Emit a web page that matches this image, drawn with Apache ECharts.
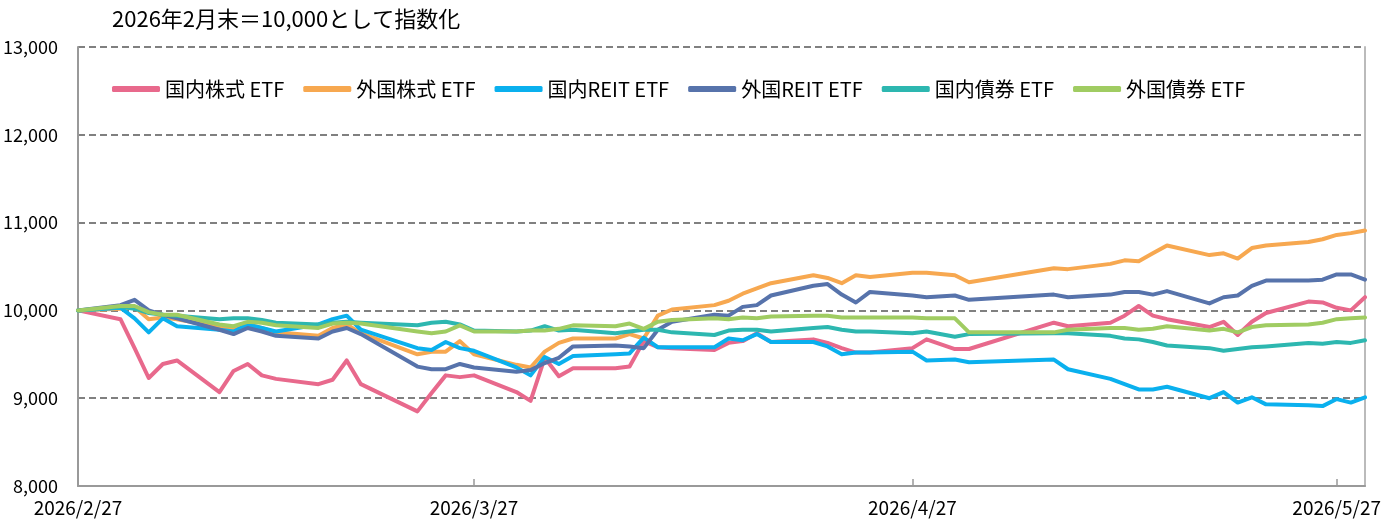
<!DOCTYPE html>
<html>
<head>
<meta charset="utf-8">
<script src="https://cdn.jsdelivr.net/npm/echarts@6/dist/echarts.min.js"></script>
<style>
  html, body { margin: 0; padding: 0; background: #fff; }
  #chart { width: 1397px; height: 521px; }
</style>
</head>
<body>
<div id="chart"></div>
<script>
// 日付（営業日）
const dates = [
  "2026-02-27",
  "2026-03-02", "2026-03-03", "2026-03-04", "2026-03-05", "2026-03-06",
  "2026-03-09", "2026-03-10", "2026-03-11", "2026-03-12", "2026-03-13",
  "2026-03-16", "2026-03-17", "2026-03-18", "2026-03-19",
  "2026-03-23", "2026-03-24", "2026-03-25", "2026-03-26", "2026-03-27",
  "2026-03-30", "2026-03-31", "2026-04-01", "2026-04-02", "2026-04-03",
  "2026-04-06", "2026-04-07", "2026-04-08", "2026-04-09", "2026-04-10",
  "2026-04-13", "2026-04-14", "2026-04-15", "2026-04-16", "2026-04-17",
  "2026-04-20", "2026-04-21", "2026-04-22", "2026-04-23", "2026-04-24",
  "2026-04-27", "2026-04-28", "2026-04-30", "2026-05-01",
  "2026-05-07", "2026-05-08",
  "2026-05-11", "2026-05-12", "2026-05-13", "2026-05-14", "2026-05-15",
  "2026-05-18", "2026-05-19", "2026-05-20", "2026-05-21", "2026-05-22",
  "2026-05-25", "2026-05-26", "2026-05-27", "2026-05-28", "2026-05-29"
];

const seriesNames = ["国内株式 ETF", "外国株式 ETF", "国内REIT ETF", "外国REIT ETF", "国内債券 ETF", "外国債券 ETF"];
const colors = ["#E8698C", "#F7A850", "#0AB0EE", "#5773AB", "#2DB7B0", "#A0CC62"];

const domesticStock = [
  10000, 9900, 9570, 9230, 9390, 9430, 9070, 9310, 9390, 9260, 9220,
  9160, 9210, 9430, 9160, 8850, 9060, 9260, 9240, 9260,
  9070, 8970, 9460, 9250, 9340, 9340, 9360, 9650, 9580, 9570,
  9550, 9630, 9650, 9740, 9640, 9670, 9630, 9570, 9520, 9520,
  9570, 9670, 9560, 9560, 9860, 9820,
  9860, 9940, 10050, 9940, 9900, 9810, 9870, 9720, 9870, 9970,
  10100, 10090, 10030, 10000, 10150
];
const foreignStock = [
  10000, 10020, 10040, 9900, 9920, 9900, 9810, 9790, 9840, 9800, 9750,
  9710, 9800, 9840, 9740, 9500, 9530, 9530, 9650, 9500,
  9380, 9350, 9530, 9630, 9680, 9680, 9730, 9680, 9940, 10010,
  10060, 10110, 10190, 10250, 10310, 10400, 10370, 10310, 10400, 10380,
  10430, 10430, 10400, 10320, 10480, 10470,
  10530, 10570, 10560, 10650, 10740, 10630, 10650, 10590, 10710, 10740,
  10780, 10810, 10860, 10880, 10910
];
const domesticReit = [
  10000, 10030, 9910, 9750, 9910, 9820, 9780, 9760, 9840, 9800, 9760,
  9840, 9900, 9940, 9780, 9570, 9550, 9640, 9570, 9540,
  9350, 9260, 9470, 9390, 9480, 9500, 9510, 9690, 9580, 9580,
  9580, 9680, 9660, 9730, 9640, 9640, 9590, 9500, 9520, 9520,
  9530, 9430, 9440, 9410, 9440, 9330,
  9220, 9160, 9100, 9100, 9130, 9000, 9070, 8950, 9010, 8930,
  8920, 8910, 8990, 8950, 9010
];
const foreignReit = [
  10000, 10060, 10120, 10000, 9950, 9910, 9780, 9730, 9800, 9760, 9710,
  9680, 9760, 9800, 9730, 9360, 9330, 9330, 9390, 9350,
  9300, 9320, 9400, 9460, 9590, 9600, 9590, 9570, 9780, 9870,
  9950, 9940, 10040, 10060, 10170, 10280, 10300, 10180, 10090, 10210,
  10170, 10150, 10170, 10120, 10180, 10150,
  10180, 10210, 10210, 10180, 10220, 10080, 10150, 10170, 10280, 10340,
  10340, 10350, 10410, 10410, 10350
];
const domesticBond = [
  10000, 10040, 10020, 9970, 9950, 9940, 9900, 9910, 9910, 9890, 9860,
  9840, 9860, 9870, 9860, 9830, 9860, 9870, 9840, 9770,
  9760, 9770, 9820, 9770, 9780, 9740, 9760, 9780, 9780, 9750,
  9720, 9770, 9780, 9780, 9760, 9800, 9810, 9780, 9760, 9760,
  9740, 9760, 9700, 9730, 9740, 9740,
  9710, 9680, 9670, 9640, 9600, 9570, 9540, 9560, 9580, 9590,
  9630, 9620, 9640, 9630, 9660
];
const foreignBond = [
  10000, 10050, 10050, 9980, 9950, 9950, 9840, 9820, 9870, 9860, 9830,
  9800, 9850, 9860, 9850, 9760, 9740, 9760, 9830, 9760,
  9760, 9770, 9770, 9790, 9830, 9820, 9850, 9790, 9870, 9890,
  9910, 9900, 9920, 9910, 9930, 9940, 9940, 9920, 9920, 9920,
  9920, 9910, 9910, 9750, 9750, 9780,
  9800, 9800, 9780, 9790, 9820, 9770, 9790, 9750, 9810, 9830,
  9840, 9860, 9900, 9910, 9920
];
const allValues = [domesticStock, foreignStock, domesticReit, foreignReit, domesticBond, foreignBond];

// 目盛り
const yTicks = { min: 8000, max: 13000, interval: 1000 };
const xLabelDates = ["2026-02-27", "2026-03-27", "2026-04-27", "2026-05-27"];
const xTickDates = ["2026-03-27", "2026-04-27", "2026-05-27"];
const xMin = "2026-02-27";
const xMax = "2026-05-29";

function ts(s) {
  const p = s.split("-").map(Number);
  return new Date(p[0], p[1] - 1, p[2]).getTime();
}

const font = "'Noto Sans CJK JP', 'Noto Sans', sans-serif";
const chart = echarts.init(document.getElementById("chart"));
chart.setOption({
  animation: false,
  textStyle: { fontFamily: font },
  title: {
    text: "2026年2月末＝10,000として指数化",
    left: 107, top: 3,
    textStyle: { fontSize: 22, fontWeight: "normal", color: "#000", fontFamily: font }
  },
  legend: {
    data: seriesNames,
    left: 107, top: 74,
    icon: "roundRect",
    itemWidth: 48, itemHeight: 6, itemGap: 19,
    textStyle: { fontSize: 20, color: "#000", fontFamily: font }
  },
  grid: { left: 78, right: 32, top: 47, bottom: 35, containLabel: false },
  // 日付はタイムスタンプの数値軸で扱う
  xAxis: {
    type: "value",
    min: ts(xMin), max: ts(xMax),
    axisLine: { lineStyle: { color: "#999", width: 2 } },
    axisTick: { show: true, inside: true, length: 7, lineStyle: { color: "#999", width: 1.5 }, customValues: xTickDates.map(ts) },
    axisLabel: {
      customValues: xLabelDates.map(ts),
      formatter: v => { const d = new Date(v); return d.getFullYear() + "/" + (d.getMonth() + 1) + "/" + d.getDate(); },
      fontSize: 19, color: "#000", margin: 12, fontFamily: font
    },
    splitLine: { show: false }
  },
  yAxis: [{
    type: "value",
    min: yTicks.min, max: yTicks.max, interval: yTicks.interval,
    axisLine: { show: true, lineStyle: { color: "#999", width: 2 } },
    axisTick: { show: false },
    axisLabel: { formatter: v => v.toLocaleString("en-US"), fontSize: 18, color: "#000", margin: 20, fontFamily: font },
    splitLine: { lineStyle: { color: "#808080", width: 2, type: [7, 4] } }
  }, {
    type: "value", position: "right",
    min: yTicks.min, max: yTicks.max, interval: yTicks.interval,
    axisLine: { show: true, lineStyle: { color: "#bbb", width: 2 } },
    axisTick: { show: false }, axisLabel: { show: false }, splitLine: { show: false }
  }],
  series: seriesNames.map((name, i) => ({
    name,
    type: "line",
    symbol: "none",
    color: colors[i],
    lineStyle: { width: 4, join: "round", cap: "round" },
    data: dates.map((d, j) => [ts(d), allValues[i][j]])
  }))
});
</script>
</body>
</html>
